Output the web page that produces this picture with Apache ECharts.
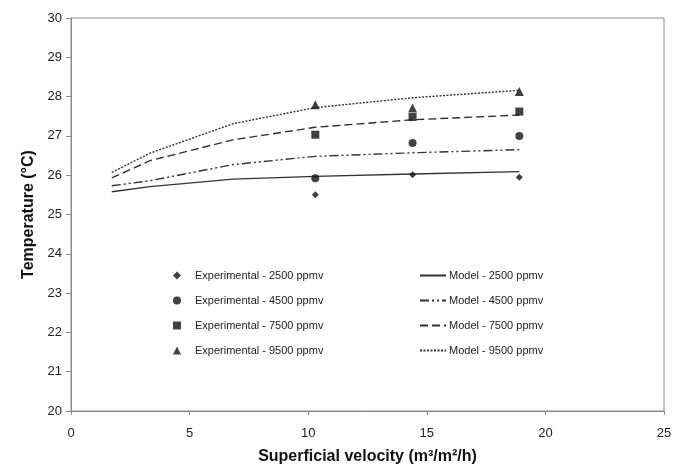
<!DOCTYPE html>
<html>
<head>
<meta charset="utf-8">
<script src="https://cdn.jsdelivr.net/npm/echarts@6/dist/echarts.min.js"></script>
<style>
  html, body { margin: 0; padding: 0; background: #fff; }
  #main { width: 674px; height: 465px; }
</style>
</head>
<body>
<div id="main"></div>
<script>
// 实验点 x 坐标
var expVelocity = [10.3, 14.4, 18.9];
var exp2500 = [25.5, 26.01, 25.95];
var exp4500 = [25.92, 26.82, 27.0];
var exp7500 = [27.03, 27.48, 27.62];
var exp9500 = [27.79, 27.71, 28.13];

// 模型曲线 x 坐标
var modelVelocity = [1.72, 3.33, 6.83, 10.3, 14.4, 18.9];
var model2500 = [25.58, 25.71, 25.9, 25.97, 26.03, 26.09];
var model4500 = [25.73, 25.86, 26.27, 26.48, 26.57, 26.65];
var model7500 = [25.93, 26.37, 26.9, 27.22, 27.41, 27.53];
var model9500 = [26.07, 26.56, 27.31, 27.72, 27.97, 28.16];

var xTicks = [0, 5, 10, 15, 20, 25];
var yTicks = [20, 21, 22, 23, 24, 25, 26, 27, 28, 29, 30];

function pairs(xs, ys) {
  return xs.map(function (x, i) { return [x, ys[i]]; });
}

var chart = echarts.init(document.getElementById("main"));
var axisGray = "#8a8a8a";
var ink = "#111";

function expSeries(name, data, symbol, size) {
  return {
    name: name,
    type: "scatter",
    symbol: symbol,
    symbolSize: size,
    itemStyle: { color: ink },
    data: pairs(expVelocity, data),
    z: 5,
  };
}

function modelSeries(name, data, dash) {
  return {
    name: name,
    type: "line",
    showSymbol: false,
    symbol: "none",
    lineStyle: { color: "#333", width: 1.4, type: dash },
    itemStyle: { color: "#333" },
    data: pairs(modelVelocity, data),
  };
}

chart.setOption({
  animation: false,
  textStyle: { fontFamily: "Liberation Sans, Arial, sans-serif" },
  grid: {
    left: 71,
    right: 10,
    top: 18,
    bottom: 54,
    containLabel: false,
    outerBoundsMode: "none",
    show: true,
    borderColor: axisGray,
    borderWidth: 1,
  },
  legend: [
    {
      orient: "vertical",
      left: 168,
      top: 265,
      itemGap: 14,
      itemWidth: 8,
      itemHeight: 8,
      textStyle: { fontSize: 11, color: "#222", padding: [0, 0, 0, 9] },
      data: [
        "Experimental - 2500 ppmv",
        "Experimental - 4500 ppmv",
        "Experimental - 7500 ppmv",
        "Experimental - 9500 ppmv",
      ],
    },
    {
      orient: "vertical",
      left: 414,
      top: 265,
      itemGap: 14,
      itemWidth: 26,
      itemHeight: 8,
      itemStyle: { color: "transparent", borderWidth: 0 },
      textStyle: { fontSize: 11, color: "#222", padding: [0, 0, 0, -2] },
      data: [
        "Model - 2500 ppmv",
        "Model - 4500 ppmv",
        "Model - 7500 ppmv",
        "Model - 9500 ppmv",
      ],
    },
  ],
  xAxis: {
    type: "value",
    min: xTicks[0],
    max: xTicks[xTicks.length - 1],
    interval: 5,
    name: "Superficial velocity (m³/m²/h)",
    nameLocation: "middle",
    nameGap: 38,
    nameTextStyle: { fontSize: 16, fontWeight: "bold", color: "#111" },
    axisLine: { lineStyle: { color: axisGray } },
    axisTick: { show: true, length: 4, lineStyle: { color: axisGray } },
    axisLabel: { fontSize: 13, color: "#222", margin: 16 },
    splitLine: { show: false },
  },
  yAxis: {
    type: "value",
    min: yTicks[0],
    max: yTicks[yTicks.length - 1],
    interval: 1,
    name: "Temperature (°C)",
    nameLocation: "middle",
    nameGap: 30,
    nameTextStyle: { fontSize: 16, fontWeight: "bold", color: "#111" },
    axisLine: { show: true, lineStyle: { color: axisGray } },
    axisTick: { show: true, length: 5, lineStyle: { color: axisGray } },
    axisLabel: { fontSize: 13, color: "#222", margin: 9 },
    splitLine: { show: false },
  },
  series: [
    expSeries("Experimental - 2500 ppmv", exp2500, "diamond", 7),
    expSeries("Experimental - 4500 ppmv", exp4500, "circle", 8),
    expSeries("Experimental - 7500 ppmv", exp7500, "rect", 8),
    expSeries("Experimental - 9500 ppmv", exp9500, "triangle", 9),
    modelSeries("Model - 2500 ppmv", model2500, "solid"),
    modelSeries("Model - 4500 ppmv", model4500, [9, 3, 2, 3, 2, 3]),
    modelSeries("Model - 7500 ppmv", model7500, [8, 4]),
    modelSeries("Model - 9500 ppmv", model9500, [2, 1.5]),
  ],
});
</script>
</body>
</html>
